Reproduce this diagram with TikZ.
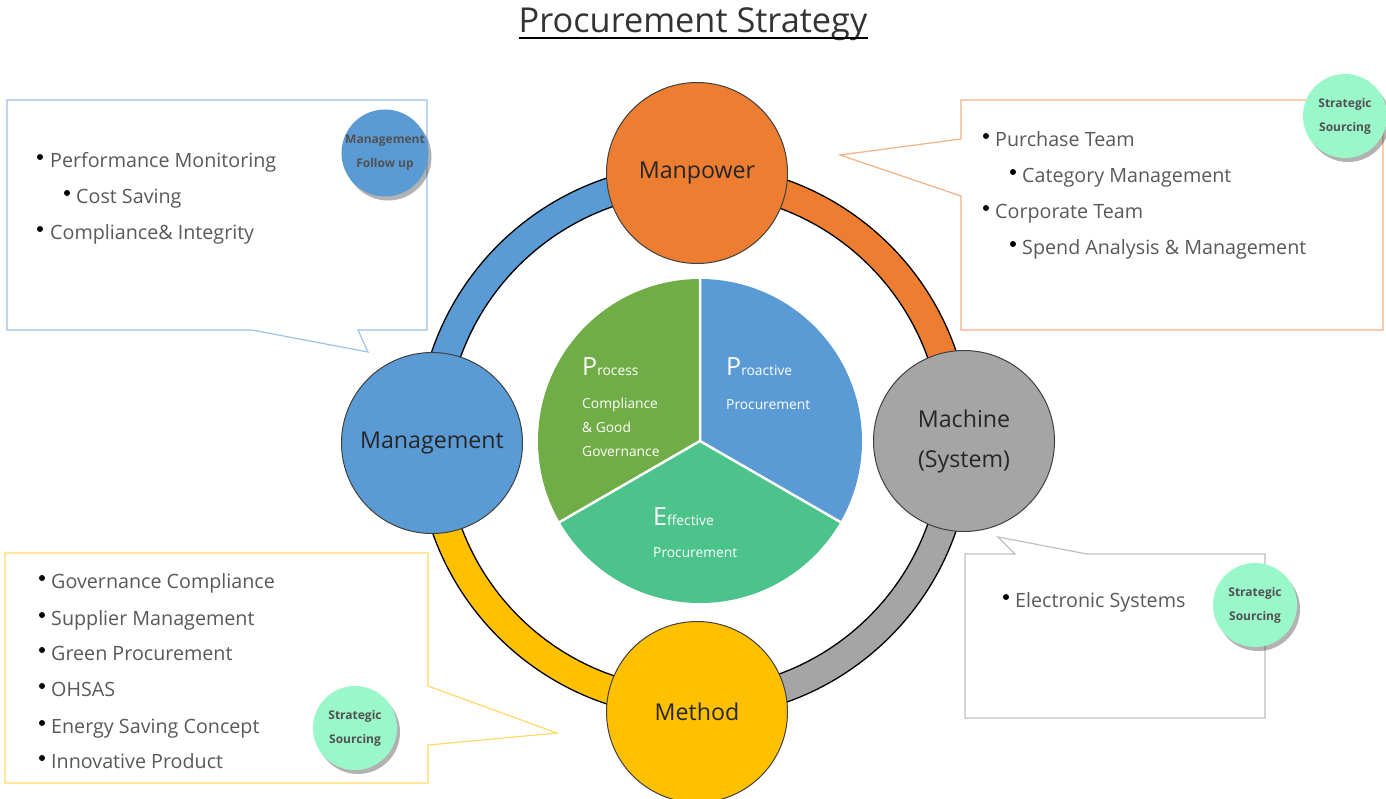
\documentclass[tikz,border=0pt]{standalone}
\usepackage{fontspec}
\setmainfont{Open Sans}
\usetikzlibrary{calc,shadows}
\definecolor{cblue}{HTML}{5B9BD5}
\definecolor{corange}{HTML}{ED7D31}
\definecolor{cgray}{HTML}{A5A5A5}
\definecolor{cyellow}{HTML}{FFC000}
\definecolor{cgreen}{HTML}{70AD47}
\definecolor{cteal}{HTML}{4BC38A}
\definecolor{cmint}{HTML}{9AF7CA}
\definecolor{lblue}{HTML}{9DC3E6}
\definecolor{lorange}{HTML}{F4B183}
\definecolor{lyellow}{HTML}{FFD966}
\definecolor{lgray}{HTML}{BFBFBF}
\definecolor{txtgray}{HTML}{595959}
\definecolor{darktxt}{HTML}{262626}
\tikzset{
  maincirc/.style={circle, draw=black!75, line width=1pt, minimum size=181pt, inner sep=0pt,
     text=darktxt, font=\fontsize{23.2}{27}\selectfont, align=center},
  minicirc/.style={circle, minimum size=84pt, inner sep=0pt, text=darktxt!80,
     font=\fontsize{12}{24}\selectfont\bfseries, align=center,
     drop shadow={shadow xshift=3pt, shadow yshift=-4pt, fill=black, opacity=0.3}},
  bul/.style={circle, fill=black, inner sep=0pt, minimum size=6pt},
  btxt/.style={anchor=base west, inner sep=0pt, text=txtgray, font=\fontsize{19.7}{22}\selectfont},
  pietxt/.style={anchor=base west, inner sep=0pt, text=white, font=\fontsize{13.8}{15}\selectfont},
  ringband/.style={draw=black, line width=1.3pt, even odd rule},
  callout/.style={line width=1.2pt, fill=white, line join=miter}
}
\newcommand{\bigP}[2]{{\fontsize{25}{25}\selectfont #1}{\fontsize{13.8}{14}\selectfont #2}}
\begin{document}
\begin{tikzpicture}[x=1pt,y=-1pt]
\useasboundingbox (0,0) rectangle (1386,798);
\fill[white] (0,0) rectangle (1386,798);

% title
\node[anchor=base, inner sep=0pt, text=black!80, font=\fontsize{34.3}{38}\selectfont] (title) at (693,32) {Procurement Strategy};
\draw[line width=2.5pt] ([yshift=-6pt]title.base west) -- ([yshift=-6pt]title.base east);

% callouts
\draw[callout, draw=lblue] (7,100) -- (427,100) -- (427,330) -- (358,330) -- (368,352) -- (252,330) -- (7,330) -- cycle;
\draw[callout, draw=lorange] (961,100) -- (1383,100) -- (1383,330) -- (961,330) -- (961,196) -- (840,155) -- (961,139) -- cycle;
\draw[callout, draw=lyellow] (5,553) -- (428,553) -- (428,686) -- (557,733) -- (428,745) -- (428,783) -- (5,783) -- cycle;
\draw[callout, draw=lgray] (965,554) -- (1015,554) -- (998,537) -- (1087,554) -- (1265,554) -- (1265,718) -- (965,718) -- cycle;

% ring
\coordinate (rc) at (694,441);
\begin{scope}\clip (rc) rectangle ++(-300,-300);
\draw[ringband, fill=cblue] (rc) circle[radius=277] (rc) circle[radius=248];\end{scope}
\begin{scope}\clip (rc) rectangle ++(300,-300);
\draw[ringband, fill=corange] (rc) circle[radius=277] (rc) circle[radius=248];\end{scope}
\begin{scope}\clip (rc) rectangle ++(300,300);
\draw[ringband, fill=cgray] (rc) circle[radius=277] (rc) circle[radius=248];\end{scope}
\begin{scope}\clip (rc) rectangle ++(-300,300);
\draw[ringband, fill=cyellow] (rc) circle[radius=277] (rc) circle[radius=248];\end{scope}

% main circles
\node[maincirc, fill=corange] (manpower) at (697,173) {Manpower};
\node[maincirc, fill=cblue] (management) at (432,443) {Management};
\node[maincirc, fill=cgray] (machine) at (964,441) {Machine\\[13pt](System)};
\node[maincirc, fill=cyellow] (method) at (697,712) {Method};

% pie
\coordinate (pc) at (700,441);
\begin{scope}\clip (pc) -- ($(pc)+(270:400)$) -- ($(pc)+(330:400)$) -- ($(pc)+(30:400)$) -- cycle;
\fill[cblue] (pc) circle[radius=162];\end{scope}
\begin{scope}\clip (pc) -- ($(pc)+(30:400)$) -- ($(pc)+(90:400)$) -- ($(pc)+(150:400)$) -- cycle;
\fill[cteal] (pc) circle[radius=162];\end{scope}
\begin{scope}\clip (pc) -- ($(pc)+(150:400)$) -- ($(pc)+(210:400)$) -- ($(pc)+(270:400)$) -- cycle;
\fill[cgreen] (pc) circle[radius=162];\end{scope}
\draw[white, line width=2.5pt] (pc) -- ($(pc)+(270:163)$) (pc) -- ($(pc)+(30:163)$) (pc) -- ($(pc)+(150:163)$);

\node[pietxt] (p1) at (582,375) {\bigP{P}{rocess}};
\node[pietxt] (p2) at (582,408) {Compliance};
\node[pietxt] (p3) at (582,432) {\& Good};
\node[pietxt] (p4) at (582,456) {Governance};
\node[pietxt] (q1) at (726,375) {\bigP{P}{roactive}};
\node[pietxt] (q2) at (726,409) {Procurement};
\node[pietxt] (e1) at (653,525) {\bigP{E}{ffective}};
\node[pietxt] (e2) at (653,557) {Procurement};

% top-left texts
\node[bul] (b1) at (40,157) {}; \node[btxt] (t1) at (50,167) {Performance Monitoring};
\node[bul] (b2) at (67,193) {}; \node[btxt] (t2) at (76,203) {Cost Saving};
\node[bul] (b3) at (40,229) {}; \node[btxt] (t3) at (50,239) {Compliance\& Integrity};

% top-right texts
\node[bul] (b4) at (986,136) {}; \node[btxt] (t4) at (995,146) {Purchase Team};
\node[bul] (b5) at (1013,172) {}; \node[btxt] (t5) at (1022,182) {Category Management};
\node[bul] (b6) at (986,208) {}; \node[btxt] (t6) at (995,218) {Corporate Team};
\node[bul] (b7) at (1013,244) {}; \node[btxt] (t7) at (1022,254) {Spend Analysis \& Management};

% bottom-left texts
\node[bul] (b8) at (42,578) {}; \node[btxt] (t8) at (51,588) {Governance Compliance};
\node[bul] (b9) at (42,615) {}; \node[btxt] (t9) at (51,625) {Supplier Management};
\node[bul] (b10) at (42,650) {}; \node[btxt] (t10) at (51,660) {Green Procurement};
\node[bul] (b11) at (42,686) {}; \node[btxt] (t11) at (51,696) {OHSAS};
\node[bul] (b12) at (42,723) {}; \node[btxt] (t12) at (51,733) {Energy Saving Concept};
\node[bul] (b13) at (42,758) {}; \node[btxt] (t13) at (51,768) {Innovative Product};

% bottom-right text
\node[bul] (b14) at (1006,597) {}; \node[btxt] (t14) at (1015,607) {Electronic Systems};

% small circles
\node[minicirc, fill=cblue] (mfu) at (385,153) {Management\\Follow up};
\node[minicirc, fill=cmint] (ss1) at (1345,116) {Strategic\\Sourcing};
\node[minicirc, fill=cmint] (ss2) at (1255,605) {Strategic\\Sourcing};
\node[minicirc, fill=cmint] (ss3) at (355,728) {Strategic\\Sourcing};
\end{tikzpicture}
\end{document}
